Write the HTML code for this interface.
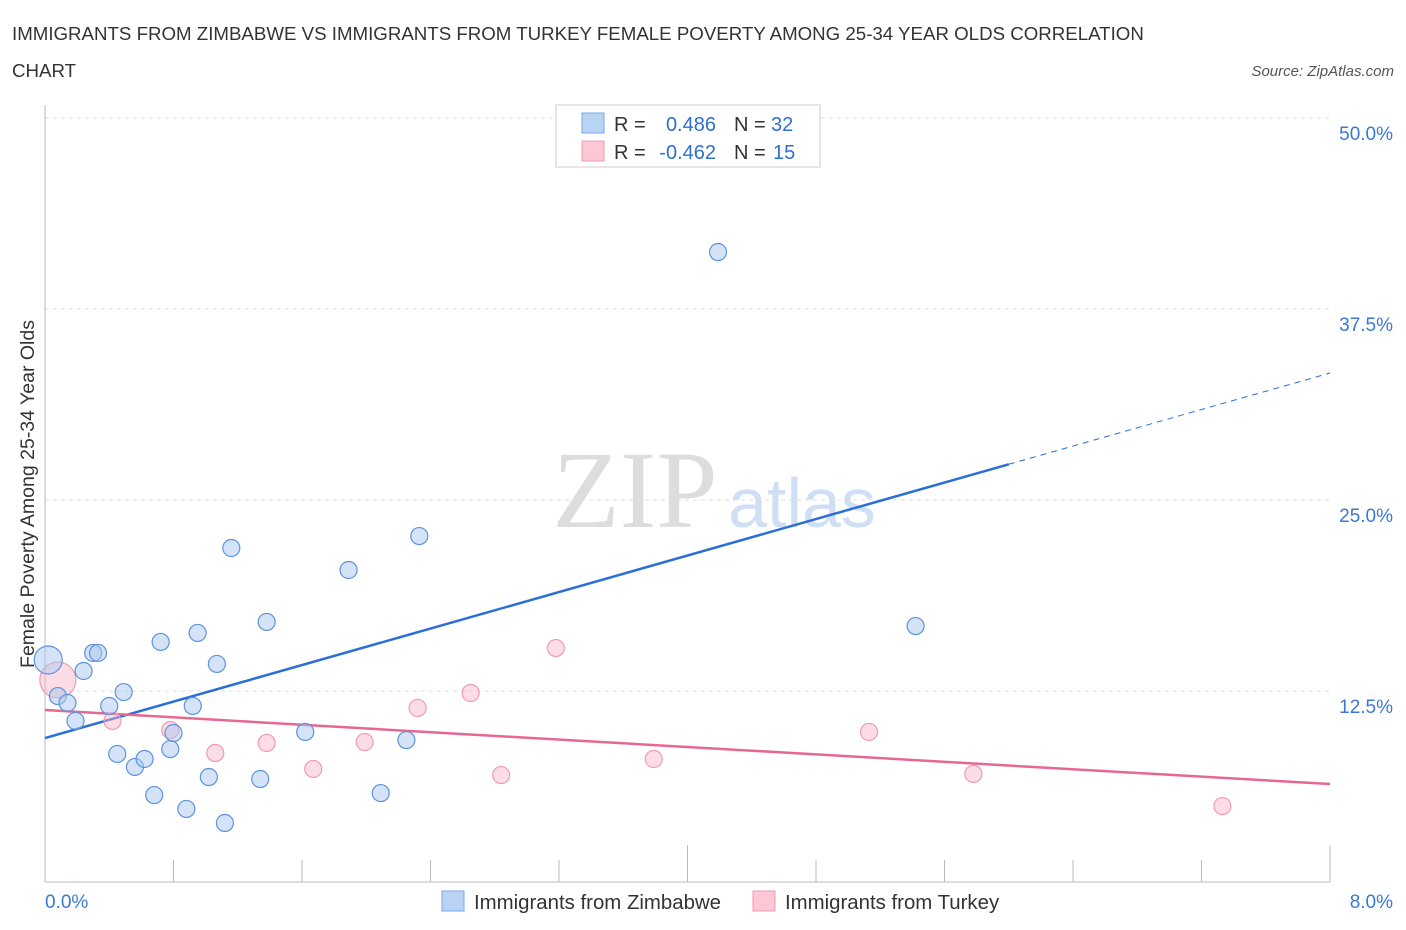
<!DOCTYPE html>
<html><head><meta charset="utf-8"><style>
body{margin:0;background:#fff;font-family:"Liberation Sans",sans-serif;}
</style></head><body>
<svg id="chart" width="1406" height="930" xmlns="http://www.w3.org/2000/svg" style="display:block;font-family:'Liberation Sans',sans-serif">
<text x="12" y="40" font-size="18.7" fill="#333">IMMIGRANTS FROM ZIMBABWE VS IMMIGRANTS FROM TURKEY FEMALE POVERTY AMONG 25-34 YEAR OLDS CORRELATION</text>
<text x="12" y="77" font-size="18.7" fill="#333">CHART</text>
<text x="1394" y="76" font-size="15" fill="#555" font-style="italic" text-anchor="end">Source: ZipAtlas.com</text>
<text x="635" y="527" font-size="110" fill="#ddd" font-family="Liberation Serif,serif" text-anchor="middle">ZIP</text>
<text x="802" y="527" font-size="70" fill="#cfe0f5" text-anchor="middle">atlas</text>
<text transform="translate(34,494) rotate(-90)" font-size="19.5" fill="#333" text-anchor="middle">Female Poverty Among 25-34 Year Olds</text>
<g id="grid"></g><g id="lines"></g><g id="pts"></g>
<g>
<rect x="556" y="105" width="264" height="62" fill="#fff" stroke="#ccc"/>
<rect x="582" y="113" width="22" height="20" fill="#b9d3f5" stroke="#7aa8e6"/>
<rect x="582" y="141" width="22" height="20" fill="#fcc8d6" stroke="#f19ab3"/>
<text x="614" y="131" font-size="20" fill="#333">R =</text><text x="716" y="131" font-size="20" fill="#2f6fd0" text-anchor="end">0.486</text>
<text x="734" y="131" font-size="20" fill="#333">N =</text><text x="771" y="131" font-size="20" fill="#2f6fd0">32</text>
<text x="614" y="159" font-size="20" fill="#333">R =</text><text x="716" y="159" font-size="20" fill="#2f6fd0" text-anchor="end">-0.462</text>
<text x="734" y="159" font-size="20" fill="#333">N =</text><text x="773" y="159" font-size="20" fill="#2f6fd0">15</text>
</g>
<g>
<rect x="442" y="891" width="22" height="20" fill="#b9d3f5" stroke="#7aa8e6"/>
<text x="474" y="909" font-size="20.4" fill="#333">Immigrants from Zimbabwe</text>
<rect x="753" y="891" width="22" height="20" fill="#fcc8d6" stroke="#f19ab3"/>
<text x="785" y="909" font-size="20.4" fill="#333">Immigrants from Turkey</text>
</g>
</svg>
<script>
const xTicks=[0,0.8,1.6,2.4,3.2,4,4.8,5.6,6.4,7.2,8];
const yTicks=[12.5,25,37.5,50];
const yTickLabels=["12.5%","25.0%","37.5%","50.0%"];
const zimX=[0.02,0.08,0.14,0.19,0.24,0.30,0.33,0.40,0.45,0.49,0.56,0.62,0.68,0.72,0.78,0.80,0.88,0.92,0.95,1.02,1.07,1.12,1.16,1.34,1.38,1.62,1.89,2.09,2.25,2.33,4.19,5.42];
const zimY=[14.53,12.17,11.72,10.54,13.81,14.99,14.99,11.52,8.38,12.43,7.53,8.05,5.69,15.71,8.70,9.75,4.78,11.52,16.30,6.87,14.27,3.86,21.86,6.74,17.02,9.82,20.42,5.82,9.29,22.64,41.23,16.75];
const turX=[0.08,0.42,0.78,1.06,1.38,1.67,1.99,2.32,2.65,2.84,3.18,3.79,5.13,5.78,7.33];
const turY=[13.22,10.54,9.95,8.44,9.10,7.40,9.16,11.39,12.37,7.00,15.31,8.05,9.82,7.07,4.97];
const zimTrend=[9.42,33.31];
const turTrend=[11.26,6.41];
const NS="http://www.w3.org/2000/svg";
const X=v=>45+v/8*1285, Y=v=>882-v/50*764;
function mk(t,a,p){const e=document.createElementNS(NS,t);for(const k in a)e.setAttribute(k,a[k]);p.appendChild(e);return e;}
const g=document.getElementById('grid');
yTicks.forEach((v,i)=>{
 const l=mk('line',{x1:45,x2:1330,y1:Y(v),y2:Y(v),stroke:'#ddd','stroke-dasharray':'4,4'},g);
 
 
 const t=mk('text',{x:1393,y:Y(v)+22,'font-size':19,fill:'#3b78d4','text-anchor':'end'},g);t.textContent=yTickLabels[i];
 
 
});
mk('line',{x1:45,x2:45,y1:105,y2:882,stroke:'#bbb'},g);
mk('line',{x1:45,x2:1330,y1:882,y2:882,stroke:'#bbb'},g);
xTicks.forEach((v,i)=>{const l=mk('line',{x1:X(v),x2:X(v),y1:(i%5?860:845),y2:882,stroke:'#bbb'},g);
 
 });
let t=mk('text',{x:45,y:908,'font-size':19,fill:'#3b78d4'},g);t.textContent='0.0%';


t=mk('text',{x:1393,y:908,'font-size':19,fill:'#3b78d4','text-anchor':'end'},g);t.textContent='8.0%';


const L=document.getElementById('lines');
const bx=6.0, by=zimTrend[0]+(zimTrend[1]-zimTrend[0])*bx/8;
let l=mk('line',{x1:X(0),y1:Y(zimTrend[0]),x2:X(bx),y2:Y(by),stroke:'#2a6fd6','stroke-width':2.5},L);


l=mk('line',{x1:X(bx),y1:Y(by),x2:X(8),y2:Y(zimTrend[1]),stroke:'#2a6fd6','stroke-width':1,'stroke-dasharray':'6,5'},L);


l=mk('line',{x1:X(0),y1:Y(turTrend[0]),x2:X(8),y2:Y(turTrend[1]),stroke:'#e6678f','stroke-width':2.5},L);


const P=document.getElementById('pts');
turX.forEach((v,i)=>{const c=mk('circle',{cx:X(v),cy:Y(turY[i]),r:i==0?18:8.5,fill:'rgba(248,180,200,0.45)',stroke:'#f19ab3','stroke-width':1.2},P);
 
 });
zimX.forEach((v,i)=>{const c=mk('circle',{cx:X(v),cy:Y(zimY[i]),r:i==0?14:8.5,fill:'rgba(170,200,240,0.5)',stroke:'#5d93dc','stroke-width':1.2},P);
 
 });
</script>
</body></html>
